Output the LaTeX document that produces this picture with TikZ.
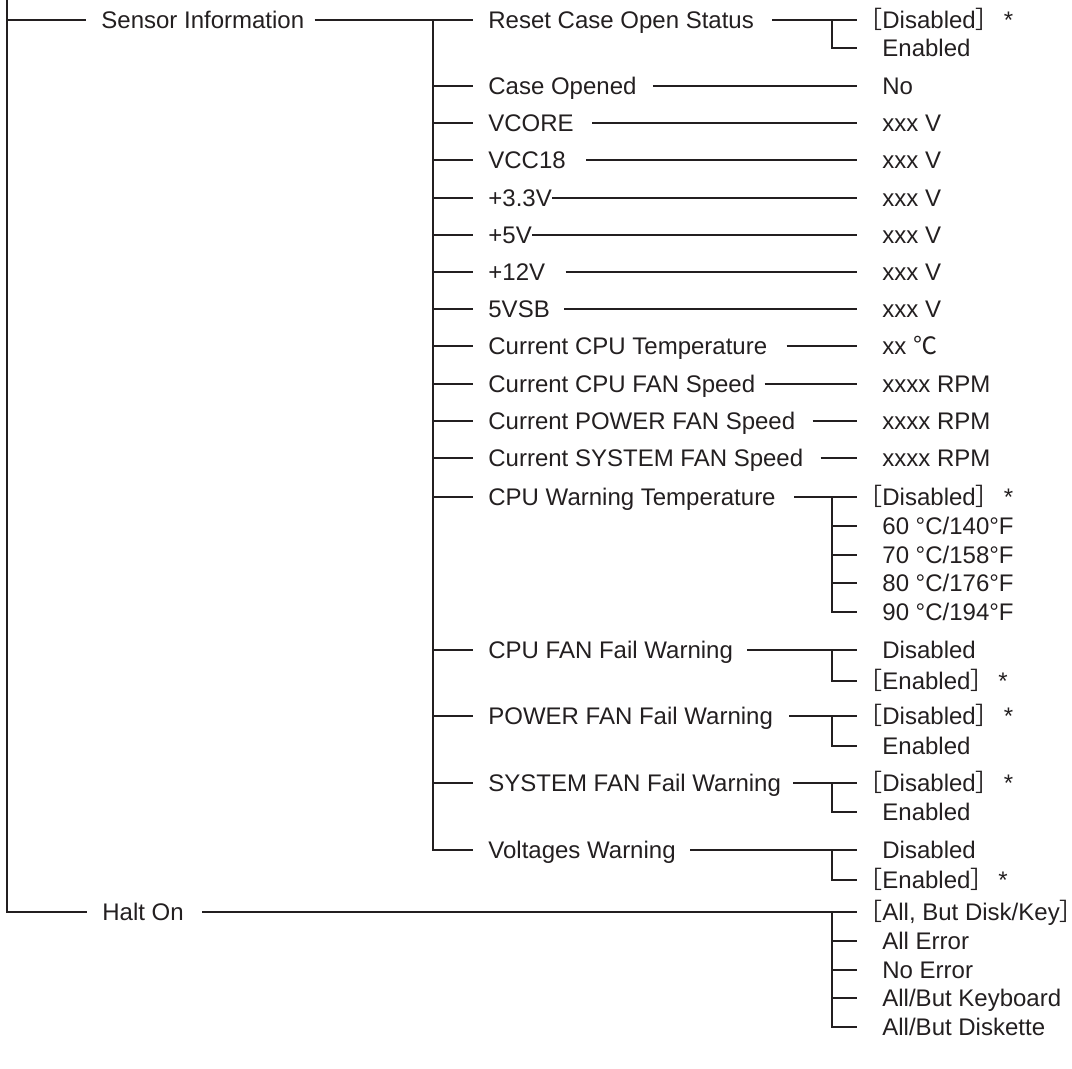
\documentclass[tikz,border=0pt]{standalone}
\usepackage{fontspec}
\setmainfont{Liberation Sans}
\newfontfamily\cjk{Noto Sans CJK JP}
\definecolor{tinta}{RGB}{35,31,32}
\newcommand\abre{\llap{\cjk［}}
\newcommand\cierra{{\cjk］}}

\begin{document}
\begin{tikzpicture}[
  x=0.5pt, y=-0.5pt,
  font=\fontsize{12pt}{14pt}\selectfont,
  texto/.style={anchor=west, inner sep=0pt, text height=8.6pt,
                text depth=0pt, text=tinta},
  linea/.style={draw=tinta, line width=1.3pt}
]
\useasboundingbox (0,0) rectangle (1072,1069);

% --- Nivel 1 ---
\coordinate (raiz) at (7,0);
\node[texto] (sens) at (101,20) {Sensor Information};
\node[texto] (halt) at (102,912) {Halt On};

% --- Nivel 2 ---
\node[texto] (reset)    at (488,20)  {Reset Case Open Status};
\node[texto] (caseop)   at (488,86)  {Case Opened};
\node[texto] (vcore)    at (488,123) {VCORE};
\node[texto] (vcc)      at (488,160) {VCC18};
\node[texto] (v33)      at (488,198) {+3.3V};
\node[texto] (v5)       at (488,235) {+5V};
\node[texto] (v12)      at (488,272) {+12V};
\node[texto] (vsb)      at (488,309) {5VSB};
\node[texto] (cputemp)  at (488,346) {Current CPU Temperature};
\node[texto] (cpufan)   at (488,384) {Current CPU FAN Speed};
\node[texto] (pwrfan)   at (488,421) {Current POWER FAN Speed};
\node[texto] (sysfan)   at (488,458) {Current SYSTEM FAN Speed};
\node[texto] (warntemp) at (488,497) {CPU Warning Temperature};
\node[texto] (cpufail)  at (488,650) {CPU FAN Fail Warning};
\node[texto] (pwrfail)  at (488,716) {POWER FAN Fail Warning};
\node[texto] (sysfail)  at (488,783) {SYSTEM FAN Fail Warning};
\node[texto] (voltwarn) at (488,850) {Voltages Warning};

% --- Nivel 3 ---
\node[texto] (resetA)   at (882,20)  {\abre Disabled\cierra\hspace{2pt}*};
\node[texto] (resetB)   at (882,48)  {Enabled};
\node[texto] (caseopV)  at (882,86)  {No};
\node[texto] (vcoreV)   at (882,123) {xxx V};
\node[texto] (vccV)     at (882,160) {xxx V};
\node[texto] (v33V)     at (882,198) {xxx V};
\node[texto] (v5V)      at (882,235) {xxx V};
\node[texto] (v12V)     at (882,272) {xxx V};
\node[texto] (vsbV)     at (882,309) {xxx V};
\node[texto] (cputempV) at (882,346) {xx {\cjk ℃}};
\node[texto] (cpufanV)  at (882,384) {xxxx RPM};
\node[texto] (pwrfanV)  at (882,421) {xxxx RPM};
\node[texto] (sysfanV)  at (882,458) {xxxx RPM};
\node[texto] (warnA)    at (882,497) {\abre Disabled\cierra\hspace{2pt}*};
\node[texto] (warnB)    at (882,526) {60 °C/140°F};
\node[texto] (warnC)    at (882,555) {70 °C/158°F};
\node[texto] (warnD)    at (882,583) {80 °C/176°F};
\node[texto] (warnE)    at (882,612) {90 °C/194°F};
\node[texto] (cpufailA) at (882,650) {Disabled};
\node[texto] (cpufailB) at (882,681) {\abre Enabled\cierra\hspace{2pt}*};
\node[texto] (pwrfailA) at (882,716) {\abre Disabled\cierra\hspace{2pt}*};
\node[texto] (pwrfailB) at (882,746) {Enabled};
\node[texto] (sysfailA) at (882,783) {\abre Disabled\cierra\hspace{2pt}*};
\node[texto] (sysfailB) at (882,812) {Enabled};
\node[texto] (voltA)    at (882,850) {Disabled};
\node[texto] (voltB)    at (882,880) {\abre Enabled\cierra\hspace{2pt}*};
\node[texto] (haltA)    at (882,912) {\abre All, But Disk/Key\rlap{\cjk］}};
\node[texto] (haltB)    at (882,941) {All Error};
\node[texto] (haltC)    at (882,970) {No Error};
\node[texto] (haltD)    at (882,998) {All/But Keyboard};
\node[texto] (haltE)    at (882,1027) {All/But Diskette};

% --- Tronco principal ---
\draw[linea] (raiz) |- ([xshift=-7.5pt]halt.west);
\draw[linea] (raiz |- sens) -- ([xshift=-7.5pt]sens.west);
\draw[linea] ([xshift=5pt]sens.east) -- ([xshift=-7.5pt]reset.west);
\draw[linea] ([xshift=9pt]halt.east) -- ([xshift=-12.5pt]haltA.west);

% --- Ramas de Sensor Information ---
\draw[linea] ([xshift=-27.5pt]reset.west) |- ([xshift=-7.5pt]voltwarn.west);
\draw[linea] ([xshift=-27.5pt]caseop.west) -- ([xshift=-7.5pt]caseop.west);
\draw[linea] ([xshift=-27.5pt]vcore.west) -- ([xshift=-7.5pt]vcore.west);
\draw[linea] ([xshift=-27.5pt]vcc.west) -- ([xshift=-7.5pt]vcc.west);
\draw[linea] ([xshift=-27.5pt]v33.west) -- ([xshift=-7.5pt]v33.west);
\draw[linea] ([xshift=-27.5pt]v5.west) -- ([xshift=-7.5pt]v5.west);
\draw[linea] ([xshift=-27.5pt]v12.west) -- ([xshift=-7.5pt]v12.west);
\draw[linea] ([xshift=-27.5pt]vsb.west) -- ([xshift=-7.5pt]vsb.west);
\draw[linea] ([xshift=-27.5pt]cputemp.west) -- ([xshift=-7.5pt]cputemp.west);
\draw[linea] ([xshift=-27.5pt]cpufan.west) -- ([xshift=-7.5pt]cpufan.west);
\draw[linea] ([xshift=-27.5pt]pwrfan.west) -- ([xshift=-7.5pt]pwrfan.west);
\draw[linea] ([xshift=-27.5pt]sysfan.west) -- ([xshift=-7.5pt]sysfan.west);
\draw[linea] ([xshift=-27.5pt]warntemp.west) -- ([xshift=-7.5pt]warntemp.west);
\draw[linea] ([xshift=-27.5pt]cpufail.west) -- ([xshift=-7.5pt]cpufail.west);
\draw[linea] ([xshift=-27.5pt]pwrfail.west) -- ([xshift=-7.5pt]pwrfail.west);
\draw[linea] ([xshift=-27.5pt]sysfail.west) -- ([xshift=-7.5pt]sysfail.west);

% --- Valores simples ---
\draw[linea] ([xshift=8pt]caseop.east) -- ([xshift=-12.5pt]caseopV.west);
\draw[linea] ([xshift=9pt]vcore.east) -- ([xshift=-12.5pt]vcoreV.west);
\draw[linea] ([xshift=10pt]vcc.east) -- ([xshift=-12.5pt]vccV.west);
\draw[linea] (v33.east) -- ([xshift=-12.5pt]v33V.west);
\draw[linea] (v5.east) -- ([xshift=-12.5pt]v5V.west);
\draw[linea] ([xshift=10pt]v12.east) -- ([xshift=-12.5pt]v12V.west);
\draw[linea] ([xshift=7pt]vsb.east) -- ([xshift=-12.5pt]vsbV.west);
\draw[linea] ([xshift=9.5pt]cputemp.east) -- ([xshift=-12.5pt]cputempV.west);
\draw[linea] ([xshift=4.5pt]cpufan.east) -- ([xshift=-12.5pt]cpufanV.west);
\draw[linea] ([xshift=8.5pt]pwrfan.east) -- ([xshift=-12.5pt]pwrfanV.west);
\draw[linea] ([xshift=8.5pt]sysfan.east) -- ([xshift=-12.5pt]sysfanV.west);

% --- Opciones ---
\draw[linea] ([xshift=9pt]reset.east) -- ([xshift=-12.5pt]resetA.west);
\draw[linea] ([xshift=-25pt]resetA.west) |- ([xshift=-12.5pt]resetB.west);

\draw[linea] ([xshift=9pt]warntemp.east) -- ([xshift=-12.5pt]warnA.west);
\draw[linea] ([xshift=-25pt]warnA.west) |- ([xshift=-12.5pt]warnE.west);
\draw[linea] ([xshift=-25pt]warnB.west) -- ([xshift=-12.5pt]warnB.west);
\draw[linea] ([xshift=-25pt]warnC.west) -- ([xshift=-12.5pt]warnC.west);
\draw[linea] ([xshift=-25pt]warnD.west) -- ([xshift=-12.5pt]warnD.west);

\draw[linea] ([xshift=7pt]cpufail.east) -- ([xshift=-12.5pt]cpufailA.west);
\draw[linea] ([xshift=-25pt]cpufailA.west) |- ([xshift=-12.5pt]cpufailB.west);

\draw[linea] ([xshift=8pt]pwrfail.east) -- ([xshift=-12.5pt]pwrfailA.west);
\draw[linea] ([xshift=-25pt]pwrfailA.west) |- ([xshift=-12.5pt]pwrfailB.west);

\draw[linea] ([xshift=6pt]sysfail.east) -- ([xshift=-12.5pt]sysfailA.west);
\draw[linea] ([xshift=-25pt]sysfailA.west) |- ([xshift=-12.5pt]sysfailB.west);

\draw[linea] ([xshift=7pt]voltwarn.east) -- ([xshift=-12.5pt]voltA.west);
\draw[linea] ([xshift=-25pt]voltA.west) |- ([xshift=-12.5pt]voltB.west);

% --- Opciones de Halt On ---
\draw[linea] ([xshift=-25pt]haltA.west) |- ([xshift=-12.5pt]haltE.west);
\draw[linea] ([xshift=-25pt]haltB.west) -- ([xshift=-12.5pt]haltB.west);
\draw[linea] ([xshift=-25pt]haltC.west) -- ([xshift=-12.5pt]haltC.west);
\draw[linea] ([xshift=-25pt]haltD.west) -- ([xshift=-12.5pt]haltD.west);

\end{tikzpicture}
\end{document}
